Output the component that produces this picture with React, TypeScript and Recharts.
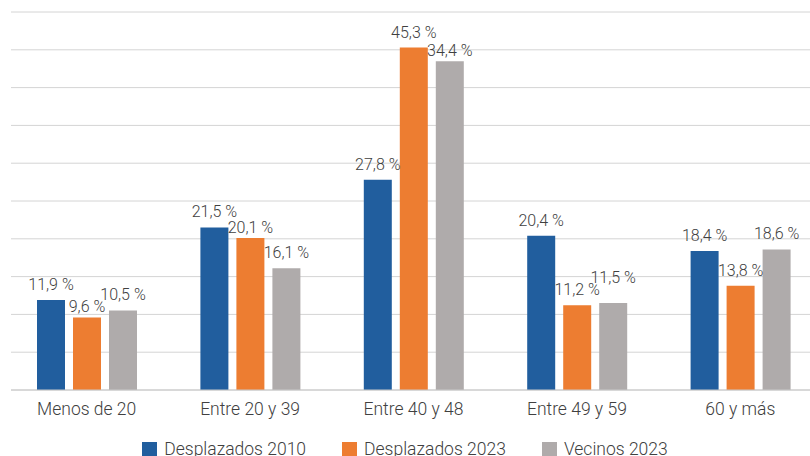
import { BarChart, Bar, XAxis, YAxis, CartesianGrid, Legend, LabelList } from 'recharts'

const categories = ['Menos de 20', 'Entre 20 y 39', 'Entre 40 y 48', 'Entre 49 y 59', '60 y más']
// bar heights as drawn in the picture
const desplazados2010 = [11.9, 21.5, 27.8, 20.4, 18.4]
const desplazados2023 = [9.6, 20.1, 45.3, 11.2, 13.8]
const vecinos2023 = [10.5, 16.1, 43.5, 11.5, 18.6]
// the printed labels (the 40-48 gray bar is labelled 34,4 % although drawn near 43,5)
const desplazados2010Labels = ['11,9 %', '21,5 %', '27,8 %', '20,4 %', '18,4 %']
const desplazados2023Labels = ['9,6 %', '20,1 %', '45,3 %', '11,2 %', '13,8 %']
const vecinos2023Labels = ['10,5 %', '16,1 %', '34,4 %', '11,5 %', '18,6 %']
const yTicks = [0, 5, 10, 15, 20, 25, 30, 35, 40, 45, 50]

const SERIES = [
  { key: 'd2010', name: 'Desplazados 2010', color: '#215E9E', values: desplazados2010, labels: desplazados2010Labels },
  { key: 'd2023', name: 'Desplazados 2023', color: '#ED7D31', values: desplazados2023, labels: desplazados2023Labels },
  { key: 'v2023', name: 'Vecinos 2023', color: '#AFABAB', values: vecinos2023, labels: vecinos2023Labels },
]

const FONT = 'Roboto, "Noto Sans", sans-serif'
const TEXT = '#404040'
const GAP = 10       // normal distance label baseline -> bar top
const GAP_TIGHT = 5  // used when the label sits just below its neighbour's
const MIN_SEP = 12

const data = categories.map((c, i) => ({
  name: c,
  d2010: desplazados2010[i],
  d2023: desplazados2023[i],
  v2023: vecinos2023[i],
}))

// label above the bar, placed so it doesn't run into the label of the bar to its left
function makeLabel(si: number) {
  // eslint-disable-next-line @typescript-eslint/no-explicit-any
  return function TopLabel({ x, y, width, height, index }: any) {
    const h = Number(height)
    const base = Number(y) + h
    const pxPerUnit = h / SERIES[si].values[index]
    let prev = NaN
    let ly = 0
    for (let k = 0; k <= si; k++) {
      const barTop = base - SERIES[k].values[index] * pxPerUnit
      ly = barTop - GAP
      if (!isNaN(prev)) {
        const d = ly - prev
        if (d > 0 && d < 20) ly = barTop - GAP_TIGHT
        else if (d <= 0 && d > -MIN_SEP) ly = prev - MIN_SEP
      }
      prev = ly
    }
    return (
      <text
        x={Number(x) + Number(width) / 2}
        y={ly}
        textAnchor="middle"
        fontSize={16}
        fontWeight={300}
        fill={TEXT}
        fontFamily={FONT}
      >
        {SERIES[si].labels[index]}
      </text>
    )
  }
}

function LegendBox() {
  return (
    <div style={{ display: 'flex', justifyContent: 'center', gap: 36, fontFamily: FONT, fontSize: 17.5, fontWeight: 300, color: TEXT }}>
      {SERIES.map((s) => (
        <div key={s.key} style={{ display: 'flex', alignItems: 'center', lineHeight: '17px' }}>
          <span style={{ display: 'inline-block', width: 15, height: 15, background: s.color, marginRight: 7 }} />
          <span>{s.name}</span>
        </div>
      ))}
    </div>
  )
}

export default function App() {
  return (
    <div style={{ position: 'absolute', left: 0, top: 0, width: 810, height: 456, background: '#fff', overflow: 'hidden' }}>
      <BarChart
        width={810}
        height={456}
        data={data}
        margin={{ top: 12, right: 0, left: 11, bottom: 36 }}
        barSize={28}
        barGap={8}
      >
        <CartesianGrid vertical={false} stroke="#d4d4d4" />
        <XAxis
          dataKey="name"
          height={30}
          padding={{ left: -6, right: -12 }}
          tickLine={false}
          tickSize={0}
          tickMargin={13}
          axisLine={{ stroke: '#c8c8c8' }}
          tick={{ fontSize: 17.5, fontWeight: 300, fill: TEXT, fontFamily: FONT }}
          interval={0}
        />
        <YAxis hide domain={[0, 50]} ticks={yTicks} />
        <Legend
          layout="horizontal"
          verticalAlign="middle"
          align="center"
          wrapperStyle={{ top: 441, left: 0, width: 810 }}
          content={() => <LegendBox />}
        />
        {SERIES.map((s, si) => {
          const Lbl = makeLabel(si)
          return (
            <Bar key={s.key} dataKey={s.key} name={s.name} fill={s.color} isAnimationActive={false}>
              <LabelList dataKey={s.key} content={<Lbl />} />
            </Bar>
          )
        })}
      </BarChart>
    </div>
  )
}
